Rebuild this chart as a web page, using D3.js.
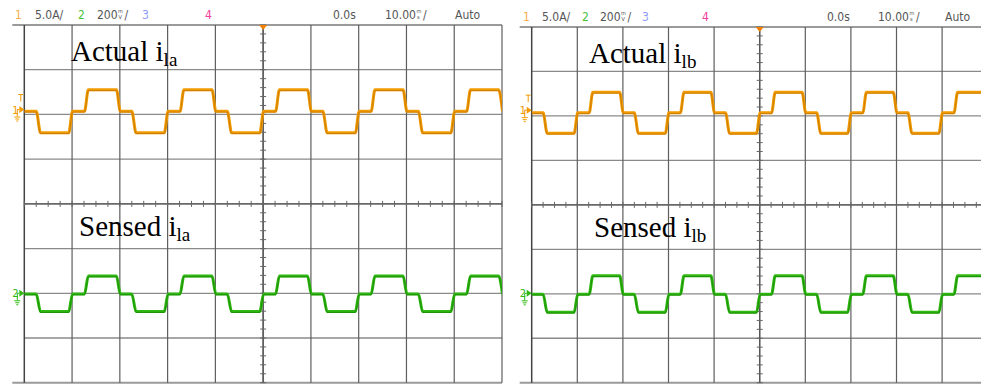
<!DOCTYPE html>
<html>
<head>
<meta charset="utf-8">
<script src="https://cdn.jsdelivr.net/npm/d3@7/dist/d3.min.js"></script>
<style>
  html, body { margin: 0; padding: 0; background: #fff; }
  svg { display: block; }
  .hdr { font-family: "Liberation Sans Narrow", "DejaVu Sans Condensed", "Arial Narrow", sans-serif; font-size: 12px; }
  .lbl { font-family: "Liberation Serif", "Times New Roman", serif; fill: #000; }
</style>
</head>
<body>
<svg id="chart" width="981" height="386"></svg>
<script>
// Time breakpoints of the 50 Hz three-level current waveform (ms, 10 ms/div)
const timeMs = [0, 2.5, 3.4, 9.3, 10.1, 12.6, 13.4, 19.3,
  20.1, 22.5, 23.4, 29.3, 30.1, 32.6, 33.4, 39.3,
  40.1, 42.5, 43.4, 49.3, 50.1, 52.6, 53.4, 59.3,
  60.1, 62.5, 63.4, 69.3, 70.1, 72.6, 73.4, 79.3,
  80.1, 82.5, 83.4, 89.3, 90.1, 92.6, 93.4, 99.3, 100.1];
// Level at each breakpoint: -1 low, 0 zero, 1 high
const levelState = [0, 0, -1, -1, 0, 0, 1, 1,
  0, 0, -1, -1, 0, 0, 1, 1,
  0, 0, -1, -1, 0, 0, 1, 1,
  0, 0, -1, -1, 0, 0, 1, 1,
  0, 0, -1, -1, 0, 0, 1, 1, 0];

// Trace levels [low, zero, high]
const actualIla = [-2.6, -0.2, 2.2];   // A  (channel 1, 5.0 A/div)
const sensedIla = [-82, -3, 77];       // mV (channel 2, 200 mV/div)
const actualIlb = [-2.6, -0.3, 2.0];   // A
const sensedIlb = [-85, -4, 79];       // mV

const gridTimes = [0, 10, 20, 30, 40, 50, 60, 70, 80, 90, 100];
const gridDivs = [-4, -3, -2, -1, 0, 1, 2, 3, 4];

const headerLabels = ["1", "5.0A/", "2", "200", "3", "4", "0.0s", "10.00", "Auto"];

const svg = d3.select("#chart");

const ORANGE = "#f29b00", ORANGE_DK = "#b86a00";
const GREEN = "#2fb812", GREEN_DK = "#137a00";

function drawPanel(p) {
  const g = svg.append("g");
  const x = d3.scaleLinear().domain([0, 100]).range([p.x0, p.x1]);
  const div = d3.scaleLinear().domain([-4, 4]).range([p.y1, p.y0]);
  const xc = x(50), yc = div(0);

  const clipId = "clip" + p.id;
  svg.append("clipPath").attr("id", clipId).append("rect")
    .attr("x", p.x0).attr("y", p.y0).attr("width", p.x1 - p.x0).attr("height", p.y1 - p.y0);

  // horizontal grid
  g.selectAll(".hg").data(gridDivs).join("line")
    .attr("x1", d => (d === 4 || d === -4) ? p.x0 - 12 : p.x0)
    .attr("x2", p.x1)
    .attr("y1", d => div(d)).attr("y2", d => div(d))
    .attr("stroke", d => (d === 4 || d === -4) ? "#9a9a9a" : "#8a8a8a")
    .attr("stroke-width", d => (d === 4 || d === -4) ? 2 : 1.3);

  // vertical grid
  g.selectAll(".vg").data(gridTimes).join("line")
    .attr("x1", d => x(d)).attr("x2", d => x(d))
    .attr("y1", p.y0).attr("y2", p.y1)
    .attr("stroke", d => d === 0 ? "#444" : "#5e5e5e")
    .attr("stroke-width", d => d === 0 ? 1.5 : 1.2);

  // centre axes with minor ticks
  g.append("line").attr("x1", xc).attr("x2", xc).attr("y1", p.y0).attr("y2", p.y1)
    .attr("stroke", "#555").attr("stroke-width", 1.3);
  g.append("line").attr("x1", p.x0).attr("x2", p.x1).attr("y1", yc).attr("y2", yc)
    .attr("stroke", "#555").attr("stroke-width", 1.3);
  g.selectAll(".vt").data(d3.range(-4, 4.001, 0.2)).join("line")
    .attr("x1", xc - 3).attr("x2", xc + 3)
    .attr("y1", d => div(d)).attr("y2", d => div(d))
    .attr("stroke", "#666").attr("stroke-width", 1);
  g.selectAll(".ht").data(d3.range(0, 100.001, 2.5)).join("line")
    .attr("x1", d => x(d)).attr("x2", d => x(d))
    .attr("y1", yc - 3).attr("y2", yc + 3)
    .attr("stroke", "#666").attr("stroke-width", 1);

  // traces
  const traces = [
    { lv: p.ch1, vpd: 5, gnd: p.g1, c: ORANGE, dk: ORANGE_DK },
    { lv: p.ch2, vpd: 200, gnd: p.g2, c: GREEN, dk: GREEN_DK }
  ];
  traces.forEach(tr => {
    const y = d3.scaleLinear()
      .domain([(-4 - tr.gnd) * tr.vpd, (4 - tr.gnd) * tr.vpd])
      .range([p.y1, p.y0]);
    const pts = timeMs.map((t, i) => [x(t), y(tr.lv[levelState[i] + 1])]);
    const line = d3.line().curve(d3.curveMonotoneX);
    const tg = g.append("g").attr("clip-path", `url(#${clipId})`);
    tg.append("path").attr("d", line(pts)).attr("fill", "none")
      .attr("stroke", tr.c).attr("stroke-width", 3).attr("stroke-linejoin", "round");
    tg.append("path").attr("d", line(pts.map(q => [q[0], q[1] + 0.8]))).attr("fill", "none")
      .attr("stroke", tr.dk).attr("stroke-width", 0.9).attr("opacity", 0.7);
  });

  // ground / channel markers
  function marker(gy, label, col, withTrig) {
    const mg = g.append("g").attr("fill", col).attr("stroke", col);
    mg.append("text").attr("x", p.x0 - 12).attr("y", gy + 4)
      .attr("stroke", "none").attr("class", "hdr").style("font-size", "11px").text(label);
    mg.append("path").attr("fill", "none").attr("stroke-width", 1)
      .attr("d", `M${p.x0 - 7},${gy + 7} V${gy} H${p.x0 - 5}`);
    mg.append("path").attr("stroke", "none")
      .attr("d", `M${p.x0 - 5},${gy - 3.5} L${p.x0},${gy} L${p.x0 - 5},${gy + 3.5} Z`);
    mg.append("path").attr("fill", "none").attr("stroke-width", 1)
      .attr("d", `M${p.x0 - 10},${gy + 7.5} h6 M${p.x0 - 9},${gy + 9.5} h4 M${p.x0 - 8},${gy + 11.5} h2`);
    if (withTrig) {
      mg.append("path").attr("fill", "none").attr("stroke-width", 1)
        .attr("d", `M${p.x0 - 6},${gy - 15} h5 M${p.x0 - 3.5},${gy - 15} v7`);
    }
  }
  marker(div(p.g1), "1", ORANGE, true);
  marker(div(p.g2), "2", GREEN, false);

  // trigger position marker
  g.append("path").attr("fill", "#f08000")
    .attr("d", `M${xc - 4},${p.y0} L${xc + 4},${p.y0} L${xc},${p.y0 + 5} Z`);

  // header
  const h = g.append("g").attr("class", "hdr");
  const hy = p.hy, hx = p.hx;
  const cols = ["#f7ad4a", "#555", "#4cc23a", "#555", "#8e9cf5", "#f0409a", "#555", "#555", "#555"];
  const items = headerLabels.map((t, i) => ({ t, x: hx[i], c: cols[i] }));
  const hText = h.selectAll("text.it").data(items).join("text")
    .attr("class", "it")
    .attr("x", d => d.x).attr("y", hy).attr("fill", d => d.c).text(d => d.t);
  // stacked unit glyphs ("mV/" and "ms/") placed right after their numbers
  function stacked(node, top, bot) {
    const x0 = +node.getAttribute("x") + node.getComputedTextLength() + 0.5;
    h.append("text").attr("x", x0).attr("y", hy - 5.2).attr("fill", "#555")
      .style("font-size", "5.5px").text(top);
    h.append("text").attr("x", x0 + 0.5).attr("y", hy + 0.6).attr("fill", "#555")
      .style("font-size", "5.5px").text(bot);
    h.append("text").attr("x", x0 + 6.5).attr("y", hy).attr("fill", "#555").text("/");
  }
  const nodes = hText.nodes();
  stacked(nodes[3], "m", "V");
  stacked(nodes[7], "m", "s");

  // labels
  p.labels.forEach(l => {
    const t = g.append("text").attr("class", "lbl").attr("x", l.x).attr("y", l.y)
      .style("font-size", "29px");
    t.append("tspan").text(l.main);
    t.append("tspan").attr("dy", 5).style("font-size", "19px").text(l.sub);
  });
}

drawPanel({
  id: "L", x0: 24.3, x1: 502, y0: 25, y1: 382.7, g1: 2.11, g2: -2.0,
  ch1: actualIla, ch2: sensedIla, hy: 18.5,
  hx: [15, 35, 78, 97, 142, 205, 333, 385, 455],
  labels: [{ x: 71, y: 61, main: "Actual i", sub: "la" }, { x: 79, y: 236, main: "Sensed i", sub: "la" }]
});
drawPanel({
  id: "R", x0: 531.7, x1: 987.7, y0: 27, y1: 382.7, g1: 2.13, g2: -1.99,
  ch1: actualIlb, ch2: sensedIlb, hy: 20.5,
  hx: [523, 542, 582, 600, 642, 702, 827, 878, 945],
  labels: [{ x: 589, y: 63, main: "Actual i", sub: "lb" }, { x: 594, y: 237, main: "Sensed i", sub: "lb" }]
});
</script>
</body>
</html>
